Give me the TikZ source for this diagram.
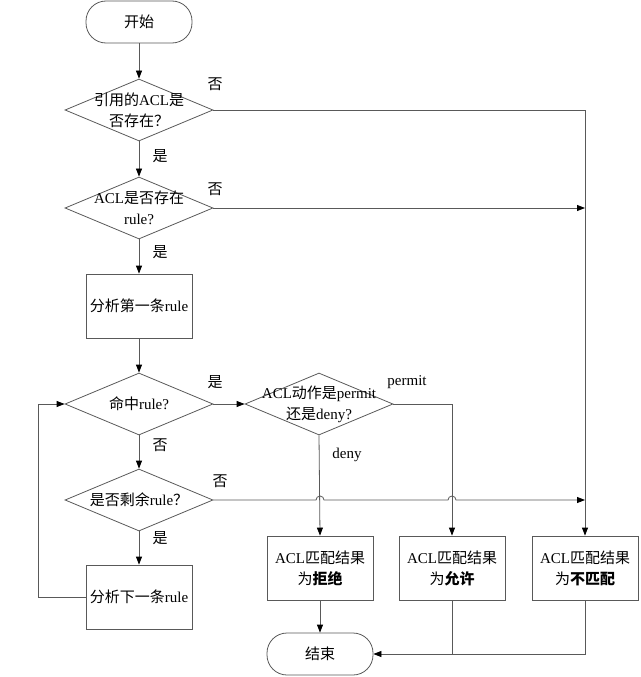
\documentclass[tikz,border=0pt]{standalone}
\usepackage{fontspec}
\setmainfont{Liberation Serif}
\newfontfamily\cjk{Noto Sans CJK SC}
\newcommand\zh[1]{{\cjk #1}}
\usetikzlibrary{shapes.geometric,arrows.meta}
\tikzset{
  flowline/.style={draw=black!65, line width=0.8pt},
  term/.style={flowline, rounded corners=20pt, minimum width=106pt, minimum height=42pt},
  proc/.style={flowline, minimum width=106pt, minimum height=64pt, align=center},
  dec/.style={flowline, diamond, minimum width=148pt, minimum height=62pt, inner sep=0pt},
  arr/.style={flowline, -{Triangle[length=8pt,width=6pt,color=black]}},
  tag/.style={inner sep=0pt}
}

\begin{document}
\begin{tikzpicture}[x=1pt, y=-1pt, font=\fontsize{15}{21}\selectfont]
  \useasboundingbox (0,0) rectangle (640,677);
  % ------- main column -------
  \node[term] (start) at (139,22) {\zh{开始}};
  \node[dec, label={[align=center]center:{\zh{引用的}ACL\zh{是}\\\zh{否存在？}}}] (acl) at (139,110) {};
  \node[dec, label={[align=center]center:{ACL\zh{是否存在}\\rule?}}] (rule) at (139,208) {};
  \node[proc] (first) at (139,306) {\zh{分析第一条}rule};
  \node[dec, label={center:{\zh{命中}rule?}}] (hit) at (139,404) {};
  \node[dec, label={[align=center]center:{ACL\zh{动作是}permit\\\zh{还是}deny?}}] (act) at (319,404) {};
  \node[dec, label={center:{\zh{是否剩余}rule\zh{？}}}] (left) at (139,500) {};
  \node[proc] (next) at (139,597) {\zh{分析下一条}rule};
  % ------- results -------
  \node[proc] (deny) at (320,568) {ACL\zh{匹配结果}\\\zh{为}{\bfseries\zh{拒绝}}};
  \node[proc] (perm) at (452,568) {ACL\zh{匹配结果}\\\zh{为}{\bfseries\zh{允许}}};
  \node[proc] (nomat) at (585,568) {ACL\zh{匹配结果}\\\zh{为}{\bfseries\zh{不匹配}}};
  \node[term] (end) at (320,654) {\zh{结束}};
  % ------- connectors -------
  \draw[arr] (start) -- (acl);
  \draw[arr] (acl) -- (rule);
  \draw[arr] (rule) -- (first);
  \draw[arr] (first) -- (hit);
  \draw[arr] (hit) -- (act);
  \draw[arr] (hit) -- (left);
  \draw[arr] (left) -- (next);
  \draw[arr] (next.west) -- ++(-47,0) |- (hit.west);
  \draw[arr] (acl.east) -| (nomat.north);
  \draw[arr] (rule.east) -- (rule.east -| nomat.north);
  \draw[arr] (act.south) -- (deny.north);
  \draw[arr] (act.east) -| (perm.north);
  % line over the two drops, with hops
  \coordinate (hop1) at (left.east -| deny.north);
  \coordinate (hop2) at (left.east -| perm.north);
  \draw[arr] (left.east) -- ([xshift=-4pt]hop1) arc[start angle=180, end angle=0, radius=4pt]
    -- ([xshift=-4pt]hop2) arc[start angle=180, end angle=0, radius=4pt]
    -- (left.east -| nomat.north);
  \draw[arr] (deny) -- (end);
  \draw[flowline] (perm.south) -- (perm.south |- end.east);
  \draw[arr] (nomat.south) |- (end.east);
  % ------- branch labels -------
  \node[tag] (no1) at (215,84) {\zh{否}};
  \node[tag] (no2) at (215,189) {\zh{否}};
  \node[tag] (no3) at (160,445) {\zh{否}};
  \node[tag] (no4) at (220,481) {\zh{否}};
  \node[tag] (yes1) at (160,156) {\zh{是}};
  \node[tag] (yes2) at (160,252) {\zh{是}};
  \node[tag] (yes3) at (215,382) {\zh{是}};
  \node[tag] (yes4) at (160,538) {\zh{是}};
  \node[tag] (permit) at (407,382) {permit};
  \node[tag] (denyl) at (347,455) {deny};
\end{tikzpicture}
\end{document}
